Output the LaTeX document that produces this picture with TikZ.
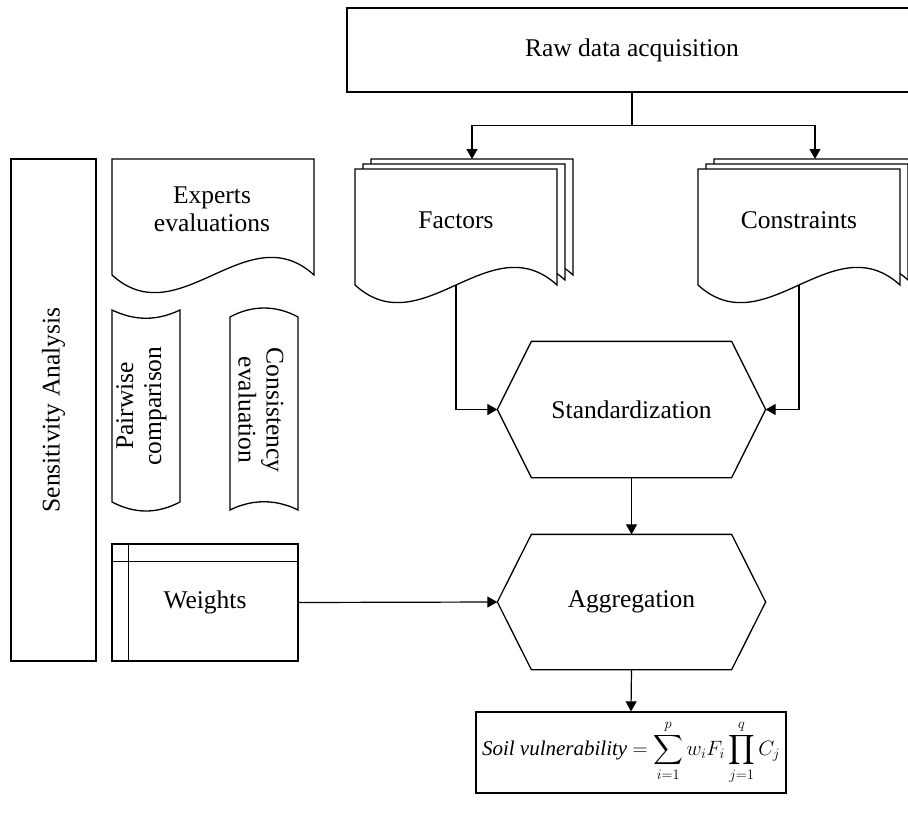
\documentclass[tikz,border=0pt]{standalone}
\usepackage{amsmath}
\usepackage{fontspec}
\setmainfont{Liberation Serif}
\usepackage{tikz}
\usetikzlibrary{arrows.meta, positioning}

\tikzset{
  lbl/.style={font=\fontsize{25.5}{28}\selectfont, align=center, inner sep=0pt},
  link/.style={-{Triangle[length=10pt,width=11pt]}, line width=1.2pt},
  outline/.style={draw, line width=1.3pt, fill=white},
  docpage/.pic={\path[outline] (0,0) -- (0,116) .. controls (67,177) and (135,55) .. (202,116) -- (202,0) -- cycle;}
}

\begin{document}
\begin{tikzpicture}[x=1pt, y=-1pt, line width=1.3pt]
\useasboundingbox (0,0) rectangle (908,814);
\clip (0,0) rectangle (908,814);

% Raw data (box runs off the right edge)
\node[draw, lbl, minimum width=570pt, minimum height=84pt] (raw) at (632,50) {Raw data acquisition};

% Factors / Constraints stacks
\foreach \dx/\dy in {16/-10, 8/-5, 0/0} {
  \pic at ([shift={(\dx,\dy)}] 355,169) {docpage};
  \pic at ([shift={(\dx,\dy)}] 698,169) {docpage};
}
\node[lbl] (fac) at (456,220) {Factors};
\node[lbl] (con) at (799,220) {Constraints};
\coordinate (factop) at (472,159);
\coordinate (contop) at (815,159);
\coordinate (facout) at (456,285);
\coordinate (conout) at (799,285);

% Left column
\node[draw, lbl, rotate=90, minimum width=502pt, minimum height=85pt] (sens) at (53.5,410) {Sensitivity Analysis};
\pic at (112,159) {docpage};
\node[lbl] (exp) at (212,209) {Experts\\evaluations};

\draw (112,310) .. controls (135,321) and (157,321) .. (180,310) -- (180,502)
  .. controls (157,514) and (135,514) .. (112,502) -- cycle;
\node[lbl, rotate=90] (pair) at (141.5,406) {Pairwise\\comparison};
\draw (230,317) .. controls (252,305) and (276,305) .. (298,317) -- (298,510)
  .. controls (276,499) and (252,499) .. (230,510) -- cycle;
\node[lbl, rotate=-90] (cons) at (261,410) {Consistency\\evaluation};

\node[draw, lbl, minimum width=186pt, minimum height=117pt] (wts) at (205,602.5) {Weights};
\draw ([xshift=17pt]wts.north west) -- ([xshift=17pt]wts.south west);
\draw ([yshift=-18pt]wts.north west) -- ([yshift=-18pt]wts.north east);

% Hexagons
\node[lbl, minimum width=267pt, minimum height=135pt] (std) at (631.5,409.5) {Standardization};
\node[lbl, minimum width=267pt, minimum height=134pt] (agg) at (631.5,602) {Aggregation};
\foreach \n in {std, agg}
  \draw (\n.west) -- ([xshift=34pt]\n.north west) -- ([xshift=-34pt]\n.north east) -- (\n.east)
    -- ([xshift=-34pt]\n.south east) -- ([xshift=34pt]\n.south west) -- cycle;

% Result
\node[draw, minimum width=310pt, minimum height=81pt] (soil) at (631,752.5)
  {\fontsize{21}{25}\selectfont\textit{Soil vulnerability} $= \displaystyle\sum_{i=1}^{p} w_iF_i \prod_{j=1}^{q} C_j$};

% Connectors
\draw[link] (raw.south) -- ++(0,33) coordinate (split) -| (factop);
\draw[link] (split) -| (contop);
\draw[link] (facout) |- (std.west);
\draw[link] (conout) |- (std.east);
\draw[link] (std.south) -- (agg.north);
\draw[link] (wts.east) -- (agg.west);
\draw[link] (agg.south) -- (soil.north);
\end{tikzpicture}
\end{document}
